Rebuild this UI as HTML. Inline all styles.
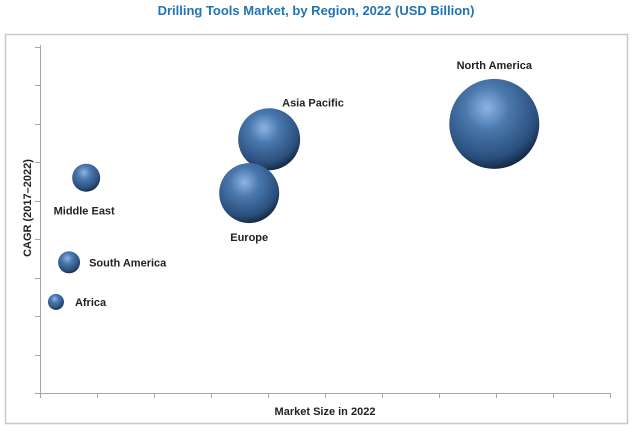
<!DOCTYPE html>
<html><head><meta charset="utf-8"><style>
body{margin:0;background:#fff;width:632px;height:430px;overflow:hidden;font-family:"Liberation Sans",sans-serif}
</style></head><body>
<svg width="632" height="430" xmlns="http://www.w3.org/2000/svg">
<defs>
<radialGradient id="g" cx="0.42" cy="0.32" r="0.7">
<stop offset="0" stop-color="#8fb4e3"/>
<stop offset="0.35" stop-color="#4a78ad"/>
<stop offset="0.8" stop-color="#2a4f7d"/>
<stop offset="1" stop-color="#13263f"/>
</radialGradient>
</defs>
<text x="316" y="15" text-anchor="middle" font-size="13" font-weight="bold" fill="#1f74b8">Drilling Tools Market, by Region, 2022 (USD Billion)</text>
<rect x="5.5" y="34.5" width="622" height="389" fill="none" stroke="#c8c8c8" stroke-width="1.5"/>
<g id="axes" stroke="#a6a6a6" stroke-width="1"></g>
<text x="325" y="415" text-anchor="middle" font-size="11" font-weight="bold" fill="#222">Market Size in 2022</text>
<text transform="translate(31,208) rotate(-90)" text-anchor="middle" font-size="11" font-weight="bold" fill="#222">CAGR (2017–2022)</text>
<g id="bubbles"></g>
</svg>
<script>
const regions=["North America","Asia Pacific","Europe","Middle East","South America","Africa"];
const marketSize=[7.97,4.02,3.67,0.81,0.51,0.28];
const cagr=[7.0,6.6,5.2,5.6,3.4,2.37];
const bubbleSize=[20.25,9.6,9.0,1.96,1.21,0.64];
const labelDx=[0,13,0,-2,20,19];
const labelDy=[-55,-33,48,37,4,4];
const labelAnchor=["middle","start","middle","middle","start","start"];
const X0=40,X1=610,Y0=393,Y1=47,XMAX=10,YMAX=9;
const xs=v=>X0+v/XMAX*(X1-X0), ys=v=>Y0-v/YMAX*(Y0-Y1), rs=s=>10*Math.sqrt(s);
const NS="http://www.w3.org/2000/svg";
const ax=document.getElementById('axes');
function ln(x1,y1,x2,y2,n){const l=document.createElementNS(NS,'line');l.setAttribute('x1',x1);l.setAttribute('y1',y1);l.setAttribute('x2',x2);l.setAttribute('y2',y2);


ax.appendChild(l);}
ln(X0+.5,Y1-2,X0+.5,Y0,'y-axis-line');
ln(X0,Y0+.5,X1,Y0+.5,'x-axis-line');
for(let i=0;i<=XMAX;i++){const x=Math.round(xs(i))+.5;ln(x,Y0,x,Y0+5,'x-tick');}
for(let i=0;i<=YMAX;i++){const y=Math.round(ys(i))+.5;ln(X0-5,y,X0,y,'y-tick');}
const bg=document.getElementById('bubbles');
regions.forEach((r,i)=>{
const cx=xs(marketSize[i]),cy=ys(cagr[i]),rad=rs(bubbleSize[i]);
const c=document.createElementNS(NS,'circle');
c.setAttribute('cx',cx);c.setAttribute('cy',cy);c.setAttribute('r',rad);c.setAttribute('fill','url(#g)');


bg.appendChild(c);
const t=document.createElementNS(NS,'text');
t.setAttribute('x',cx+labelDx[i]);
t.setAttribute('y',cy+labelDy[i]);
t.setAttribute('text-anchor',labelAnchor[i]);t.setAttribute('font-size','11');t.setAttribute('font-weight','bold');t.setAttribute('fill','#222');


t.textContent=r;bg.appendChild(t);
});
</script>
</body></html>
